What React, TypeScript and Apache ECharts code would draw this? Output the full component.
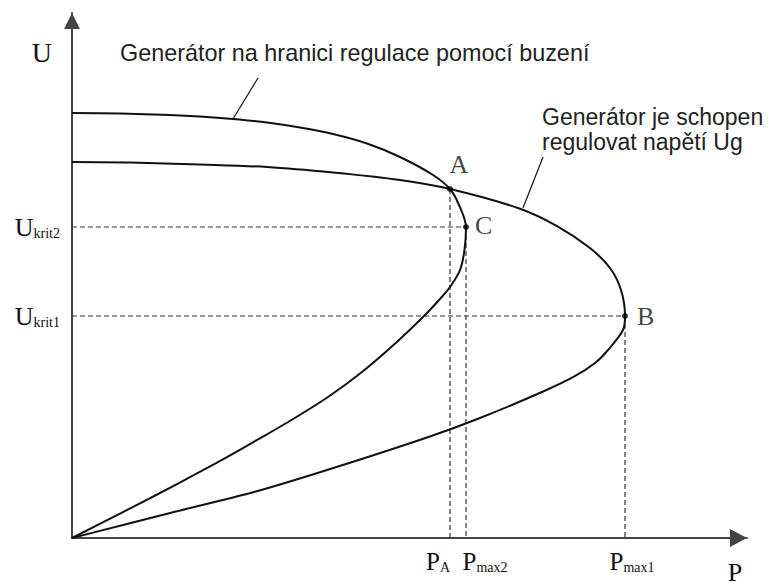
import React, { useEffect, useRef } from 'react';
import * as echarts from 'echarts';

// P-U curves (P, U) in relative units
const curve1: [number, number][] = [
  [0, 100.38], [8.68, 100.26], [17.71, 99.91], [23.13, 99.55], [29.1, 98.96], [35.24, 98.14],
  [41.21, 96.95], [47.17, 95.42], [53.32, 93.18], [59.28, 89.99], [65.25, 85.74], [68.32, 82.43],
  [69.95, 78.65], [71.21, 73.45], [70.94, 68.02], [70.13, 63.3], [68.32, 59.28], [66.51, 56.45],
  [63.62, 52.43], [58.51, 46.06], [52.41, 39.21], [46.27, 33.3], [39.67, 27.87], [33.44, 23.15],
  [28.01, 19.13], [22.41, 15.12], [15.9, 10.63], [8.86, 5.9], [0, 0],
];

const curve2: [number, number][] = [
  [0, 88.81], [10.48, 88.69], [23.13, 88.22], [35.24, 87.63], [47.17, 86.33], [59.28, 84.56],
  [68.32, 82.43], [80.61, 77.94], [87.66, 73.69], [93.62, 68.49], [97.24, 63.77], [99.23, 58.57],
  [99.95, 52.43], [99.59, 49.13], [96.88, 44.4], [94.53, 41.33], [90.64, 38.03], [84.95, 34.48],
  [73.74, 28.34], [64.43, 23.86], [46.09, 16.06], [32.89, 10.86], [18.44, 6.14], [9.22, 3.07], [0, 0],
];

const pointNames = ['A', 'C', 'B'];
const pointP = [68.32, 71.21, 99.95];
const pointU = [82.43, 73.45, 52.43];

const uTickValues = [52.43, 73.45];
const uTickSubs = ['krit1', 'krit2'];
const pTickValuesLow = [68.32];
const pTickSubsLow = ['A'];
const pTickValuesHigh = [71.21, 99.95];
const pTickSubsHigh = ['max2', 'max1'];
const pTickStylesHigh = ['p2', 'p1'];

const uAxisName = 'U';
const pAxisName = 'P';
const pMax = 122;
const uMax = 124;

const note1 = 'Generátor na hranici regulace pomocí buzení';
const note2 = ['Generátor je schopen', 'regulovat napětí Ug'];
const leader1: [number, number][] = [[33.62, 108.65], [29.1, 98.96]];
const leader2: [number, number][] = [[85.13, 89.99], [81.51, 77.94]];

const SERIF = "'Liberation Serif', 'Times New Roman', serif";
const SANS = "'Liberation Sans', Arial, sans-serif";

function findIdx(arr: number[], v: number) {
  let best = 0;
  for (let i = 0; i < arr.length; i++) if (Math.abs(arr[i] - v) < Math.abs(arr[best] - v)) best = i;
  return best;
}

const pStyle = (pad?: number[]) => ({
  fontFamily: SERIF, fontSize: 25, lineHeight: 26, color: '#111', verticalAlign: 'bottom', padding: pad || [0, 0, 0, 0],
});
const subStyle = (pad?: number[]) => ({
  fontFamily: SERIF, fontSize: 14, lineHeight: 12, color: '#111', verticalAlign: 'bottom', padding: pad || [0, 0, 0, 0],
});

export default function App() {
  const ref = useRef<HTMLDivElement>(null);
  useEffect(() => {
    if (!ref.current) return;
    const chart = echarts.init(ref.current, undefined, { renderer: 'svg' });

    const guideStyle = { color: '#333', width: 1.2, type: [5, 3] as any };
    const guide = (data: [number, number][]) => ({
      type: 'line', data, showSymbol: false, symbol: 'none', silent: true, z: 1,
      lineStyle: guideStyle,
    });
    const [iA, iC, iB] = [0, 1, 2];

    const option: any = {
      animation: false,
      backgroundColor: '#fff',
      grid: { left: 72, top: 13, right: 22, bottom: 47, containLabel: false, outerBoundsMode: 'none' },
      xAxis: [
        {
          type: 'value', min: 0, max: pMax, position: 'bottom',
          name: pAxisName, nameLocation: 'end', nameGap: -12, nameMoveOverlap: false,
          nameTextStyle: { fontFamily: SERIF, fontSize: 26, color: '#111', align: 'center', verticalAlign: 'top', lineHeight: 24, padding: [22, 0, 0, 0] },
          axisLine: { show: true, lineStyle: { color: '#444', width: 2 }, symbol: ['none', 'triangle'], symbolSize: [18, 17], symbolOffset: [0, -8.5] },
          axisTick: { show: false },
          splitLine: { show: false },
          axisLabel: {
            show: true, customValues: pTickValuesLow, margin: 10, color: '#111', align: 'right', hideOverlap: false,
            formatter: (v: number) => `{p|P}{s|${pTickSubsLow[findIdx(pTickValuesLow, v)]}}`,
            rich: { p: pStyle(), s: subStyle() },
          },
        },
        {
          type: 'value', min: 0, max: pMax, position: 'bottom',
          axisLine: { show: false },
          axisTick: { show: false },
          splitLine: { show: false },
          axisLabel: {
            show: true, customValues: pTickValuesHigh, margin: 10, color: '#111', hideOverlap: false,
            formatter: (v: number) => {
              const i = findIdx(pTickValuesHigh, v);
              return `{${pTickStylesHigh[i]}|P}{s|${pTickSubsHigh[i]}}`;
            },
            rich: { p2: pStyle([0, 0, 0, 38]), p1: pStyle([0, 0, 0, 14]), s: subStyle() },
          },
        },
      ],
      yAxis: {
        type: 'value', min: 0, max: uMax,
        name: uAxisName, nameLocation: 'end', nameGap: -39, nameMoveOverlap: false,
        nameTextStyle: { fontFamily: SERIF, fontSize: 28, color: '#111', align: 'right', verticalAlign: 'middle', padding: [0, 20, 0, 0] },
        axisLine: { show: true, lineStyle: { color: '#444', width: 2 }, symbol: ['none', 'triangle'], symbolSize: [16, 16], symbolOffset: [0, -8] },
        axisTick: { show: false },
        splitLine: { show: false },
        axisLabel: {
          show: true, customValues: uTickValues, margin: 12, color: '#111', hideOverlap: false,
          formatter: (v: number) => `{u|U}{s|${uTickSubs[findIdx(uTickValues, v)]}}`,
          rich: {
            u: { fontFamily: SERIF, fontSize: 26, lineHeight: 26, color: '#111', verticalAlign: 'bottom' },
            s: { fontFamily: SERIF, fontSize: 14, lineHeight: 10, color: '#111', verticalAlign: 'bottom' },
          },
        },
      },
      series: [
        guide([[0, pointU[iC]], [pointP[iC], pointU[iC]]]),
        guide([[0, pointU[iB]], [pointP[iB], pointU[iB]]]),
        guide([[pointP[iA], pointU[iA]], [pointP[iA], 0]]),
        guide([[pointP[iC], pointU[iC]], [pointP[iC], 0]]),
        guide([[pointP[iB], pointU[iB]], [pointP[iB], 0]]),
        {
          type: 'line', data: curve1, smooth: 0.3, showSymbol: false, symbol: 'none', z: 3,
          lineStyle: { color: '#111', width: 2 },
        },
        {
          type: 'line', data: curve2, smooth: 0.3, showSymbol: false, symbol: 'none', z: 3,
          lineStyle: { color: '#111', width: 2 },
        },
        { type: 'line', data: leader1, showSymbol: false, symbol: 'none', z: 3, lineStyle: { color: '#222', width: 1.3 } },
        { type: 'line', data: leader2, showSymbol: false, symbol: 'none', z: 3, lineStyle: { color: '#222', width: 1.3 } },
        {
          type: 'scatter', z: 5, symbolSize: 6, itemStyle: { color: '#000' },
          data: pointNames.map((n, i) => ({
            name: n, value: [pointP[i], pointU[i]],
            label: i === iA
              ? { position: 'top', offset: [9, -4] }
              : i === iC ? { position: 'right', offset: [1, -2] } : { position: 'right', offset: [4, 0] },
          })),
          label: { show: true, formatter: '{b}', fontFamily: SERIF, fontSize: 26, color: '#111' },
        },
      ],
      graphic: [
        { type: 'text', x: 120, y: 53, style: { text: note1, font: `23.4px ${SANS}`, fill: '#222', verticalAlign: 'middle' } },
        { type: 'text', x: 542, y: 116.5, style: { text: note2[0], font: `23px ${SANS}`, fill: '#222', verticalAlign: 'middle' } },
        { type: 'text', x: 542, y: 141.5, style: { text: note2[1], font: `23px ${SANS}`, fill: '#222', verticalAlign: 'middle' } },
      ],
    };
    chart.setOption(option);
    return () => chart.dispose();
  }, []);
  return <div ref={ref} style={{ position: 'fixed', left: 0, top: 0, width: 769, height: 585, background: '#fff' }} />;
}
